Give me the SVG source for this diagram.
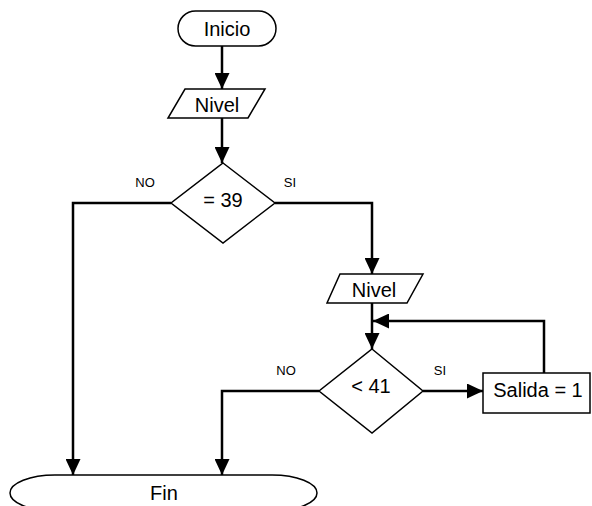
<svg xmlns="http://www.w3.org/2000/svg" width="592" height="506" viewBox="0 0 592 506">
<style>
.s{fill:#fff;stroke:#000;stroke-width:1.5}
.c{fill:none;stroke:#000;stroke-width:2.5}
.t{font-family:"Liberation Sans",Arial,sans-serif;font-size:20px;text-anchor:middle;fill:#000}
.l{font-family:"Liberation Sans",Arial,sans-serif;font-size:13px;text-anchor:middle;fill:#000}
</style>
<defs>
<marker id="a" viewBox="0 0 16 15" refX="16" refY="7.5" markerWidth="16" markerHeight="15" markerUnits="userSpaceOnUse" orient="auto">
<path d="M0,0 L16,7.5 L0,15 z" fill="#000"/>
</marker>
</defs>
<rect width="592" height="506" fill="#fff"/>
<g id="connectors">
<path class="c" d="M222,46 V89" marker-end="url(#a)"/>
<path class="c" d="M222,118 V163" marker-end="url(#a)"/>
<path class="c" d="M171,203 H73 V475" marker-end="url(#a)"/>
<path class="c" d="M275,203 H372 V274" marker-end="url(#a)"/>
<path class="c" d="M372,303 V349" marker-end="url(#a)"/>
<path class="c" d="M544,373 V321 H373" marker-end="url(#a)"/>
<path class="c" d="M423,391 H483" marker-end="url(#a)"/>
<path class="c" d="M319,391 H222 V475" marker-end="url(#a)"/>
</g>
<g id="inicio">
<rect class="s" x="178" y="11" width="98" height="35" rx="17.5"/>
<text class="t" x="227" y="36">Inicio</text>
</g>
<g id="nivel1">
<polygon class="s" points="185,89 265,89 248,118 168,118"/>
<text class="t" x="217" y="112">Nivel</text>
</g>
<g id="dec39">
<polygon class="s" points="223,163 275,203 223,243 171,203"/>
<text class="t" x="223" y="207">= 39</text>
<text class="l" x="145" y="187">NO</text>
<text class="l" x="290" y="187">SI</text>
</g>
<g id="nivel2">
<polygon class="s" points="340,274 423,274 407,303 327,303"/>
<text class="t" x="374" y="297">Nivel</text>
</g>
<g id="dec41">
<polygon class="s" points="372,349 423,391 372,433 319,391"/>
<text class="t" x="371" y="393">&lt; 41</text>
<text class="l" x="286" y="375">NO</text>
<text class="l" x="440" y="375">SI</text>
</g>
<g id="salida">
<rect class="s" x="483" y="373" width="107" height="40"/>
<text class="t" x="538" y="397">Salida = 1</text>
</g>
<g id="fin">
<rect class="s" x="10" y="475" width="307" height="36" rx="45" ry="18"/>
<text class="t" x="164" y="500">Fin</text>
</g>
</svg>
